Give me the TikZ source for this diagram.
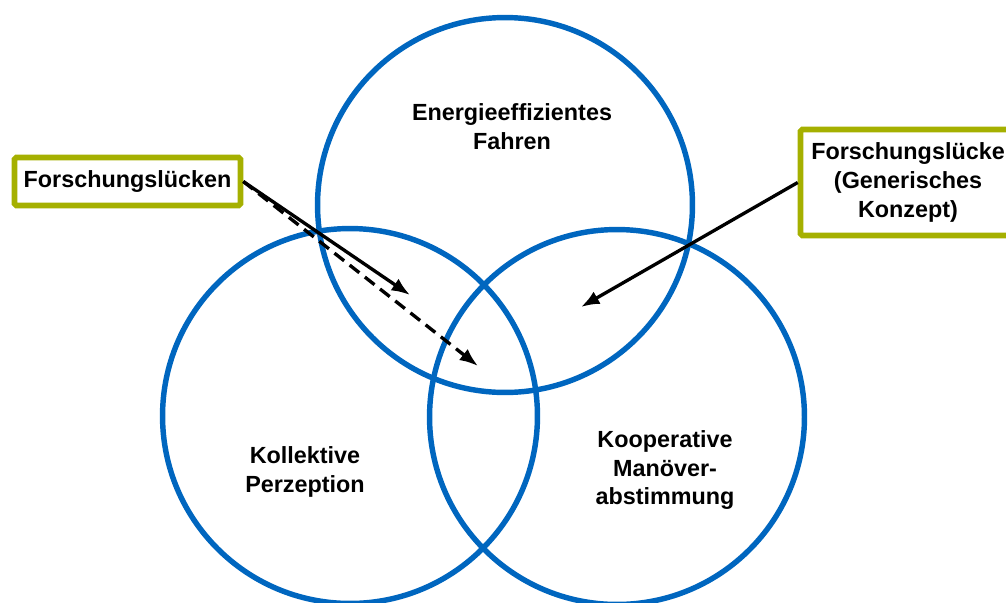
\documentclass[tikz,border=0pt]{standalone}
\usepackage{fontspec}
\setmainfont{Liberation Sans}
\usetikzlibrary{arrows.meta}
\definecolor{vennblue}{RGB}{0,102,191}
\definecolor{gapgreen}{RGB}{165,176,0}
\begin{document}
\begin{tikzpicture}[x=0.02cm, y=-0.02cm, font=\bfseries\fontsize{13.3}{16.5}\selectfont]
			\useasboundingbox (0,0) rectangle (1006,602);

			\node (c1)[circle, draw=vennblue, line width=3.1pt, minimum size=7.5cm] at (505, 205) {};
			\node (c2)[circle, draw=vennblue, line width=3.1pt, minimum size=7.5cm] at (350, 416) {};
			\node (c3)[circle, draw=vennblue, line width=3.1pt, minimum size=7.5cm] at (617, 417) {};

			\node (energie)[align=center] at (512, 127) {Energieeffizientes\\Fahren};
			\node (perzeption)[align=center] at (305, 472) {Kollektive\\Perzeption};
			\node (manoever)[align=center] at (665, 470) {Kooperative\\Manöver-\\abstimmung};

			\node (lgap)[draw=gapgreen, line width=3.2pt, rounded corners=1pt, minimum width=4.52cm, minimum height=0.96cm] at (127.5, 181.5) {Forschungslücken};
			\node (rgap)[draw=gapgreen, line width=3.2pt, rounded corners=1pt, minimum width=4.3cm, minimum height=2.12cm, align=center] at (908, 182.5) {Forschungslücke\\(Generisches\\Konzept)};

			\coordinate (p1) at (410, 295);
			\coordinate (p2) at (478, 366);
			\coordinate (p3) at (581, 307);

			\draw[-{Latex[length=10.5pt,width=8pt]}, line width=1.9pt] (lgap.east) -- (p1);
			\draw[-{Latex[length=10.5pt,width=8pt]}, line width=1.9pt, dash pattern=on 7pt off 4pt] (lgap.east) -- (p2);
			\draw[-{Latex[length=10.5pt,width=8pt]}, line width=1.9pt] (rgap.west) -- (p3);
		\end{tikzpicture}
\end{document}
